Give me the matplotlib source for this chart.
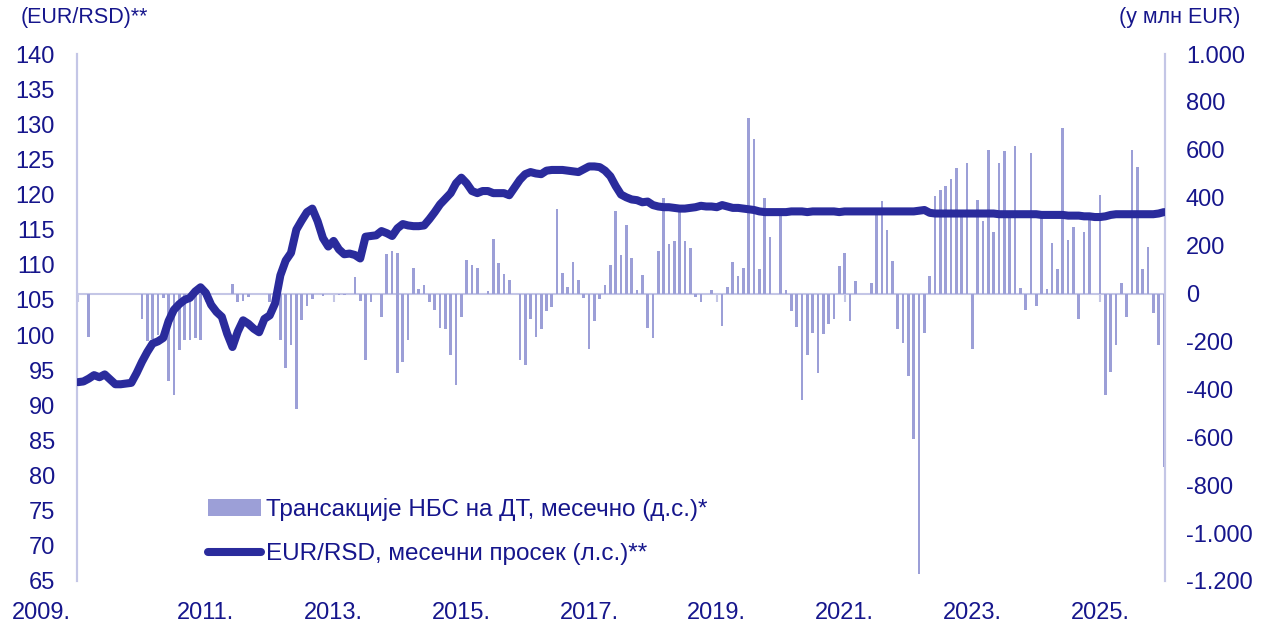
import matplotlib
matplotlib.use('Agg')
import matplotlib.pyplot as plt
import matplotlib.ticker as mticker
import matplotlib.transforms as mtransforms
from matplotlib import font_manager
from matplotlib.patches import Patch
from matplotlib.lines import Line2D
import numpy as np

LINE_C = "#2a2b9c"
BAR_C  = "#9c9fd7"
AXIS_C = "#c4c6e6"
TEXT_C = "#16168c"

# monthly data, Jan 2009 .. Jan 2026
eur_rsd = [
    93.3, 93.4, 93.8, 94.3, 94.0, 94.4, 93.7, 93.0, 93.0, 93.1,
    93.2, 94.6, 96.2, 97.6, 98.8, 99.1, 99.6, 102.0, 103.6, 104.4,
    105.0, 105.3, 106.2, 106.8, 106.0, 104.3, 103.3, 102.6, 100.2, 98.3,
    100.5, 102.1, 101.6, 100.9, 100.4, 102.3, 102.8, 104.5, 108.5, 110.6,
    111.7, 115.0, 116.3, 117.5, 118.0, 116.2, 113.8, 112.6, 113.4, 112.2,
    111.5, 111.6, 111.4, 110.9, 114.0, 114.1, 114.2, 114.8, 114.5, 114.1,
    115.2, 115.8, 115.6, 115.5, 115.5, 115.6, 116.5, 117.5, 118.6, 119.4,
    120.2, 121.6, 122.4, 121.6, 120.5, 120.2, 120.5, 120.5, 120.2, 120.2,
    120.2, 119.9, 121.0, 122.1, 122.9, 123.2, 123.0, 122.9, 123.4, 123.5,
    123.5, 123.5, 123.4, 123.3, 123.2, 123.6, 124.0, 124.0, 123.9, 123.4,
    122.6, 121.2, 120.0, 119.6, 119.3, 119.2, 118.9, 119.0, 118.5, 118.3,
    118.2, 118.2, 118.1, 118.0, 118.0, 118.1, 118.2, 118.4, 118.3, 118.3,
    118.2, 118.5, 118.3, 118.1, 118.1, 118.0, 117.9, 117.8, 117.6, 117.5,
    117.5, 117.5, 117.5, 117.5, 117.6, 117.6, 117.6, 117.5, 117.6, 117.6,
    117.6, 117.6, 117.6, 117.5, 117.6, 117.6, 117.6, 117.6, 117.6, 117.6,
    117.6, 117.6, 117.6, 117.6, 117.6, 117.6, 117.6, 117.6, 117.7, 117.8,
    117.4, 117.3, 117.3, 117.3, 117.3, 117.3, 117.3, 117.3, 117.3, 117.3,
    117.3, 117.3, 117.3, 117.2, 117.2, 117.2, 117.2, 117.2, 117.2, 117.2,
    117.2, 117.1, 117.1, 117.1, 117.1, 117.1, 117.0, 117.0, 117.0, 116.9,
    116.9, 116.8, 116.8, 116.9, 117.1, 117.2, 117.2, 117.2, 117.2, 117.2,
    117.2, 117.2, 117.2, 117.3, 117.5,
]

nbs_fx = [
    0, 0, -182, 0, 0, 0, 0, 0, 0, 0,
    0, 0, -105, -200, -188, -172, -20, -365, -424, -237,
    -193, -193, -184, -193, 0, 0, 0, 0, 0, 40,
    -36, -30, -16, 0, 0, 0, -36, 0, -195, -311,
    -216, -480, -112, -50, -22, 0, -10, 0, 0, -5,
    -5, 0, 69, -30, -277, -36, 0, -99, 167, 179,
    171, -287, -195, 107, 20, 37, -36, -67, -143, -148,
    -258, -383, -99, 138, 120, 108, 0, 10, 228, 128,
    81, 58, 0, -277, -299, -107, -181, -148, -71, -57,
    352, 87, 28, 132, 57, -17, -232, -113, -21, 36,
    119, 343, 163, 288, 148, 15, 79, -142, -187, 179,
    397, 205, 221, 339, 221, 189, -14, -37, 0, 13,
    0, -136, 27, 133, 73, 108, 734, 645, 102, 397,
    235, 0, 346, 15, -72, -141, -444, -258, -163, -331,
    -167, -128, -105, 113, 168, -113, 54, 0, 0, 43,
    345, 385, 266, 135, -147, -208, -345, -607, -1169, -163,
    72, 406, 434, 450, 480, 524, 330, 546, -230, 391,
    301, 599, 256, 544, 596, 320, 616, 24, -68, 588,
    -50, 345, 18, 210, 103, 692, 224, 279, -106, 255,
    308, 0, 412, -424, -328, -216, 43, -96, 598, 528,
    103, 193, -80, -216, -725,
]
# months where the NBS both bought and sold (second bar)
extra_month = [60]
extra_val   = [-333]

year_labels = ["2009.", "2011.", "2013.", "2015.", "2017.", "2019.", "2021.", "2023.", "2025."]

names = {f.name for f in font_manager.fontManager.ttflist}
if "Liberation Sans Narrow" in names:
    FAM = ["Liberation Sans Narrow", "Liberation Sans", "DejaVu Sans"]
    TS, LS, HS = 19, 19, 17
else:
    FAM = ["Liberation Sans", "DejaVu Sans"]
    TS, LS, HS = 17, 17.5, 15.5
plt.rcParams['font.family'] = FAM

months = np.arange(len(eur_rsd))

fig = plt.figure(figsize=(12.67, 6.34), dpi=100)
ax_bar = fig.add_axes([0.0608, 0.0836, 0.8587, 0.8312])
ax_line = ax_bar.twinx()

ax_bar.bar(months, nbs_fx, width=0.5, color=BAR_C, zorder=2)
ax_bar.bar(extra_month, extra_val, width=0.5, color=BAR_C, zorder=2)
ax_bar.axhline(0, color=AXIS_C, linewidth=1.5, zorder=1)
tick_pos = months[::24]
ax_bar.vlines(tick_pos, -35, 0, color=AXIS_C, linewidth=1.5, zorder=1)

ax_line.plot(months, eur_rsd, color=LINE_C, linewidth=5.8, solid_capstyle='round',
             solid_joinstyle='round', zorder=3)

ax_bar.set_xlim(-0.2, len(months) - 0.8)
ax_bar.set_ylim(-1200, 1000)
ax_line.set_ylim(65, 140)

ax_bar.yaxis.tick_right()
ax_line.yaxis.tick_left()
ax_bar.set_yticks(np.arange(-1200, 1001, 200))
ax_bar.yaxis.set_major_formatter(mticker.FuncFormatter(
    lambda v, _: f"{v:,.0f}".replace(",", ".")))
ax_line.set_yticks(np.arange(65, 141, 5))

ax_bar.set_xticks(tick_pos)
ax_bar.set_xticklabels(year_labels)

for a in (ax_bar, ax_line):
    for s in ("top", "bottom"):
        a.spines[s].set_visible(False)
    a.spines["left"].set_color(AXIS_C)
    a.spines["right"].set_color(AXIS_C)
    a.spines["left"].set_linewidth(1.5)
    a.spines["right"].set_linewidth(1.5)

ax_bar.tick_params(axis='y', length=0, pad=15, labelsize=TS, labelcolor=TEXT_C)
ax_line.tick_params(axis='y', length=0, pad=16, labelsize=TS, labelcolor=TEXT_C)
ax_bar.tick_params(axis='x', length=0, pad=15, labelsize=TS, labelcolor=TEXT_C)

# first year label sits left of the axis in the original
first = ax_bar.get_xticklabels()[0]
first.set_transform(first.get_transform() +
                    mtransforms.ScaledTranslation(-0.37, 0, fig.dpi_scale_trans))

fig.text(0.016, 0.972, "(EUR/RSD)**", fontsize=HS, color=TEXT_C, ha='left', va='center')
fig.text(0.979, 0.972, "(у млн EUR)", fontsize=HS, color=TEXT_C, ha='right', va='center')

handles = [Patch(facecolor=BAR_C, edgecolor='none'),
           Line2D([0], [0], color=LINE_C, linewidth=5.8, solid_capstyle='round')]
labels = ["Трансакције НБС на ДТ, месечно (д.с.)*", "EUR/RSD, месечни просек (л.с.)**"]
leg = ax_line.legend(handles, labels, loc='lower left', bbox_to_anchor=(0.12, 0.03),
                     frameon=False, fontsize=LS, handlelength=2.2, handletextpad=0.2,
                     labelspacing=0.9, borderpad=0, borderaxespad=0)
for t in leg.get_texts():
    t.set_color(TEXT_C)

fig.savefig("out.png", dpi=100, facecolor="white")
